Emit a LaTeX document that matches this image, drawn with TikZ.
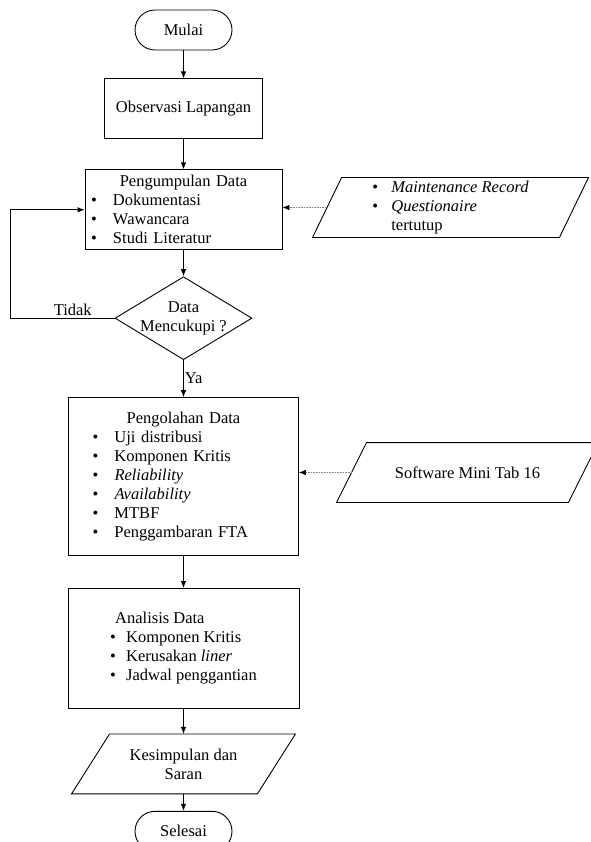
\documentclass[tikz,border=0pt]{standalone}
\usepackage{fontspec}
\setmainfont{Liberation Serif}
\usepackage{tikz}
\usetikzlibrary{arrows.meta,positioning,shapes.geometric}

\newcommand{\butir}[2][22pt]{\makebox[#1][l]{\textbullet}#2}
\newcommand{\judul}[1]{\makebox[\hsize]{#1}}
% jajaran genjang di sekeliling node: #1 nama node, #2 geser miring
\newcommand{\jajarkan}[2]{\draw ([xshift=#2]#1.north west) -- (#1.north east) -- ([xshift=-#2]#1.south east) -- (#1.south west) -- cycle;}

\begin{document}
\begin{tikzpicture}[x=1pt,y=-1pt,line width=0.9pt,
  every node/.style={font=\fontsize{16.5}{19}\selectfont},
  kotak/.style={draw,rectangle,align=center},
  ujung/.style={draw,rectangle,rounded corners=20pt,minimum width=97pt,minimum height=40pt},
  jajar/.style={rectangle,align=left,inner sep=1pt,minimum height=59pt},
  panah/.style={-{Latex[length=7pt,width=5.5pt]}},
  titik/.style={densely dotted,gray,line width=0.6pt,-{Latex[length=7pt,width=5.5pt,black]}}]
  \useasboundingbox (0,0) rectangle (590,842);

  \node[ujung] (mulai) at (183.5,30) {Mulai};
  \node[kotak,minimum width=158pt,minimum height=60pt,below=28pt of mulai] (obs) {Observasi Lapangan};
  \node[kotak,minimum width=197pt,minimum height=80pt,text width=185pt,inner xsep=6pt,inner ysep=1pt,align=left,below=30pt of obs] (kumpul) {\judul{Pengumpulan Data}\\\butir{Dokumentasi}\\\butir{Wawancara}\\\butir{Studi Literatur}};
  \node[draw,diamond,aspect=1.65,minimum width=137pt,minimum height=83pt,inner sep=-6pt,align=center,below=26pt of kumpul] (cukup) {Data\\Mencukupi ?};
  \node[kotak,minimum width=230pt,minimum height=158pt,text width=182pt,inner xsep=24pt,align=left,below=37pt of cukup] (olah) {\judul{Pengolahan Data}\\\butir{Uji distribusi}\\\butir{Komponen Kritis}\\\butir{\textit{Reliability}}\\\butir{\textit{Availability}}\\\butir{MTBF}\\\butir{Penggambaran FTA}};
  \node[kotak,minimum width=231pt,minimum height=120pt,align=left,below=32pt of olah] (analisis) {\hspace*{5pt}Analisis Data\\\butir[16pt]{Komponen Kritis}\\\butir[16pt]{Kerusakan \textit{liner}}\\\butir[16pt]{Jadwal penggantian}};
  \node[jajar,minimum width=223pt,align=center,below=25pt of analisis] (simpul) {Kesimpulan dan\\Saran};
  \jajarkan{simpul}{38pt}
  \node[ujung,below=17pt of simpul] (selesai) {Selesai};

  % input samping
  \node[jajar,minimum width=275pt] (catat) at (450.5,207.5) {\butir[19pt]{\textit{Maintenance Record}}\\\butir[19pt]{\textit{Questionaire}}\\\hspace*{19pt}tertutup};
  \jajarkan{catat}{29pt}
  \node[jajar,minimum width=261pt,align=center] (minitab) at (467.5,472.5) {Software Mini Tab 16};
  \jajarkan{minitab}{30pt}

  \draw[panah] (mulai) -- (obs);
  \draw[panah] (obs) -- (kumpul);
  \draw[panah] (kumpul) -- (cukup);
  \draw[panah] (cukup) -- node[right,inner sep=1pt] {Ya} (olah);
  \draw[panah] (olah) -- (analisis);
  \draw[panah] (analisis) -- (simpul);
  \draw[panah] (simpul) -- (selesai);
  \coordinate (kiri) at (10,315);
  \draw[panah] (cukup.west) -- node[above,pos=0.4,inner sep=2pt] {Tidak} (cukup.west -| kiri) |- (kumpul.west);
  \draw[titik] ([xshift=14.5pt]catat.west) -- (catat.west -| kumpul.east);
  \draw[titik] ([xshift=15pt]minitab.west) -- (minitab.west -| olah.east);
\end{tikzpicture}
\end{document}
